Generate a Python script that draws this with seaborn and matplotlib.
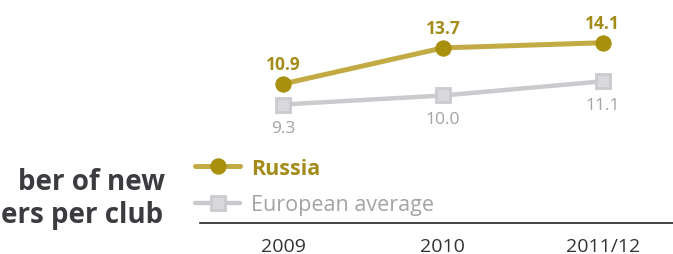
import matplotlib
matplotlib.use("Agg")
import matplotlib.pyplot as plt
import seaborn as sns
import pandas as pd


# --------------------------------------------------
# Data
# --------------------------------------------------

periods = ["2009", "2010", "2011/12"]
russia = [10.9, 13.7, 14.1]
europe = [9.3, 10.0, 11.1]

# the title is cropped at the left edge in the source picture
title_lines = ["ber of new", "ers per club"]

RUSSIA_LINE = "#c2ab45"
RUSSIA_MARK = "#a88f0c"
RUSSIA_TEXT = "#a38c1a"
EURO_LINE = "#cbcbcf"
EURO_FILL = "#d9d9dd"
EURO_TEXT = "#a3a3a3"

sns.set_style("white")
plt.rcParams["font.family"] = ["Open Sans", "DejaVu Sans"]


df = pd.DataFrame({
    "period": periods * 2,
    "value": russia + europe,
    "series": ["Russia"] * 3 + ["European average"] * 3,
})


fig = plt.figure(figsize=(6.73, 2.55), dpi=100)
ax = fig.add_axes([200 / 673, 1 - 224 / 255, 473 / 673, 224 / 255])

sns.lineplot(
    data=df[df["series"] == "European average"],
    x="period",
    y="value",
    color=EURO_LINE,
    linewidth=3.2,
    marker="s",
    markersize=9.5,
    markerfacecolor=EURO_FILL,
    markeredgecolor=EURO_LINE,
    markeredgewidth=2,
    label="European average",
    ax=ax,
)

sns.lineplot(
    data=df[df["series"] == "Russia"],
    x="period",
    y="value",
    color=RUSSIA_LINE,
    linewidth=3.6,
    marker="o",
    markersize=11,
    markerfacecolor=RUSSIA_MARK,
    markeredgecolor=RUSSIA_MARK,
    label="Russia",
    ax=ax,
)

handles, labels = ax.get_legend_handles_labels()
if ax.get_legend() is not None:
    ax.get_legend().remove()

ax.set_xlim(-0.52, 2.44)
ax.set_ylim(0.09, 17.5)

# value labels
for i, v in enumerate(russia):
    ax.annotate(
        f"{v:.1f}",
        (i, v),
        xytext=(0, 8),
        textcoords="offset points",
        ha="center",
        va="bottom",
        fontsize=12.5,
        fontweight="bold",
        color=RUSSIA_TEXT,
    )

for i, v in enumerate(europe):
    ax.annotate(
        f"{v:.1f}",
        (i, v),
        xytext=(0, -11),
        textcoords="offset points",
        ha="center",
        va="top",
        fontsize=12.5,
        color=EURO_TEXT,
    )

# axis styling
for side in ["top", "right", "left"]:
    ax.spines[side].set_visible(False)
ax.spines["bottom"].set_color("#222222")
ax.spines["bottom"].set_linewidth(1.2)
ax.set_yticks([])
ax.set_xlabel("")
ax.set_ylabel("")
ax.tick_params(axis="x", length=0, pad=10, labelsize=14, labelcolor="#333333")

# legend
leg = fig.legend(
    handles[::-1],
    labels[::-1],
    loc="upper left",
    bbox_to_anchor=(195 / 673, 1 - 159 / 255),
    frameon=False,
    fontsize=15.5,
    handlelength=2.1,
    handletextpad=0.5,
    labelspacing=0.72,
    borderpad=0,
    borderaxespad=0,
)
leg.get_texts()[0].set_color(RUSSIA_TEXT)
leg.get_texts()[0].set_fontweight("bold")
leg.get_texts()[1].set_color(EURO_TEXT)

# title
fig.text(165 / 673, 1 - 190 / 255, title_lines[0], ha="right", va="baseline",
         fontsize=20, fontweight="bold", color="#3c3c40")
fig.text(163 / 673, 1 - 223 / 255, title_lines[1], ha="right", va="baseline",
         fontsize=20, fontweight="bold", color="#3c3c40")

plt.savefig("out.png", dpi=100)
plt.close()
